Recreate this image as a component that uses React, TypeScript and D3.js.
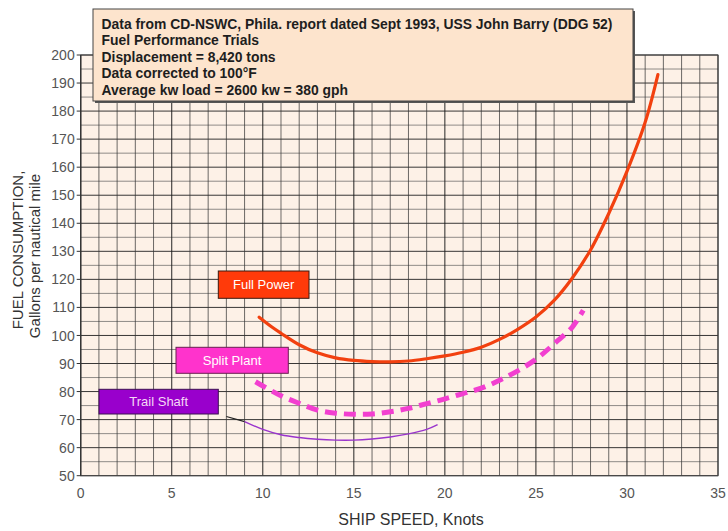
import React from "react";
import * as d3 from "d3";

const W = 728;
const H = 531;

const xTicks = [0, 5, 10, 15, 20, 25, 30, 35];
const yTicks = [50, 60, 70, 80, 90, 100, 110, 120, 130, 140, 150, 160, 170, 180, 190, 200];

const fullSpeed = [9.8, 10.5, 11, 12, 13, 14, 15, 16, 17, 18, 19, 20, 21, 22, 23, 24, 25, 26, 27, 28, 29, 30, 31, 31.7];
const fullFuel = [106.5, 103, 100.8, 96.7, 93.8, 92.0, 91.1, 90.7, 90.6, 90.9, 91.7, 92.7, 94.0, 95.8, 98.6, 102.2, 106.6, 112.5, 120.5, 130.5, 143.5, 158.5, 176, 193];

const splitSpeed = [9.6, 10, 11, 12, 13, 14, 15, 16, 17, 18, 19, 20, 21, 22, 23, 24, 25, 26, 27, 27.6];
const splitFuel = [83.5, 82, 78.5, 75.8, 73.4, 72.3, 71.9, 72.0, 72.8, 74.0, 75.7, 77.4, 79.3, 81.2, 84, 87.4, 91.5, 97, 103, 109];

const trailSpeed = [9.0, 10, 11, 12, 13, 14, 15, 16, 17, 18, 19, 19.6];
const trailFuel = [69.3, 66.5, 64.6, 63.6, 63.0, 62.7, 62.7, 63.1, 63.8, 64.9, 66.5, 68.2];

const trailLeaderSpeed = [8.0, 9.0];
const trailLeaderFuel = [71.1, 69.3];

const infoLines = [
  "Data from CD-NSWC, Phila. report dated Sept 1993, USS John Barry (DDG 52)",
  "Fuel Performance Trials",
  "Displacement = 8,420 tons",
  "Data corrected to 100\u00B0F",
  "Average kw load = 2600 kw = 380 gph",
];

const x = d3.scaleLinear().domain([0, 35]).range([80.7, 718]);
const y = d3.scaleLinear().domain([50, 200]).range([475.7, 55]);

const mkLine = (xs: number[], ys: number[]) =>
  d3
    .line<number>()
    .x((_, i) => x(xs[i]))
    .y((_, i) => y(ys[i]))
    .curve(d3.curveCatmullRom.alpha(0.5))(xs.map((v) => v)) as string;

const FONT = "'Liberation Sans', Arial, sans-serif";

export default function App() {
  const vLines = d3.range(0, 36, 1);
  const hLines = d3.range(50, 201, 5);
  const x0 = x(0), x1 = x(35), y0 = y(50), y1 = y(200);

  return (
    <svg width={W} height={H} style={{ position: "absolute", left: 0, top: 0, background: "#fff" }} fontFamily={FONT}>
      <rect x={x0} y={y1} width={x1 - x0} height={y0 - y1} fill="#fdf1e7" />
      {hLines.map((v) => (
        <line key={"h" + v} x1={x0} x2={x1} y1={y(v)} y2={y(v)}
          stroke={v % 10 === 0 ? "#222" : "#555"} strokeOpacity={v % 10 === 0 ? 0.9 : 0.65} strokeWidth={1} />
      ))}
      {vLines.map((v) => (
        <line key={"v" + v} x1={x(v)} x2={x(v)} y1={y1} y2={y0}
          stroke={v % 5 === 0 ? "#1a1a1a" : "#333"} strokeOpacity={v % 5 === 0 ? 0.95 : 0.72} strokeWidth={1} />
      ))}
      <rect x={x0} y={y1} width={x1 - x0} height={y0 - y1} fill="none" stroke="#444" strokeWidth={1} />
      <line x1={x0} x2={x0} y1={y1} y2={y0} stroke="#333" strokeWidth={1.2} />
      {yTicks.map((t) => (
        <g key={"yt" + t}>
          <line x1={x0 - 4} x2={x0} y1={y(t)} y2={y(t)} stroke="#333" />
          <text x={x0 - 6} y={y(t)} dy="0.36em" textAnchor="end" fontSize={14} fill="#555">{t}</text>
        </g>
      ))}
      {xTicks.map((t) => (
        <text key={"xt" + t} x={x(t)} y={498} textAnchor="middle" fontSize={14} fill="#555">{t}</text>
      ))}
      <text x={411} y={525} textAnchor="middle" fontSize={16} fill="#333">SHIP SPEED, Knots</text>
      <text transform="translate(23,250) rotate(-90)" textAnchor="middle" fontSize={15} fill="#333">FUEL CONSUMPTION,</text>
      <text transform="translate(40,256) rotate(-90)" textAnchor="middle" fontSize={15} fill="#333">Gallons per nautical mile</text>

      {/* info box */}
      <rect x={95} y={11} width={540} height={92} fill="#555" />
      <rect x={93} y={9} width={540} height={92} fill="#fde4cd" stroke="#444" strokeWidth={1} />
      {infoLines.map((s, i) => (
        <text key={"il" + i} x={101.5} y={28.5 + i * 16.6} fontSize={13.9} fontWeight="bold" fill="#1e1e1e">{s}</text>
      ))}

      {/* curves */}
      <path d={mkLine(trailLeaderSpeed, trailLeaderFuel)} fill="none" stroke="#222" strokeWidth={1.2} />
      <path d={mkLine(trailSpeed, trailFuel)} fill="none" stroke="#9933cc" strokeWidth={1.4} />
      <path d={mkLine(splitSpeed, splitFuel)} fill="none" stroke="#f23fd0" strokeWidth={5} strokeDasharray="12,7" />
      <path d={mkLine(fullSpeed, fullFuel)} fill="none" stroke="#f2400f" strokeWidth={3.2} strokeLinecap="round" />

      {/* labels */}
      <rect x={218.3} y={271} width={90.7} height={27.3} fill="#ff3a0a" stroke="#3a1a10" strokeWidth={1} />
      <text x={263.7} y={284.7} dy="0.36em" textAnchor="middle" fontSize={13} fill="#fff">Full Power</text>
      <rect x={176} y={347.3} width={112.3} height={26} fill="#ff33cc" stroke="#6a2050" strokeWidth={1} />
      <text x={232} y={360.3} dy="0.36em" textAnchor="middle" fontSize={13} fill="#fff">Split Plant</text>
      <rect x={99} y={389.3} width={119.3} height={24.7} fill="#9900cc" stroke="#3a1050" strokeWidth={1} />
      <text x={158.7} y={401.7} dy="0.36em" textAnchor="middle" fontSize={13} fill="#f5d8f5">Trail Shaft</text>
    </svg>
  );
}
